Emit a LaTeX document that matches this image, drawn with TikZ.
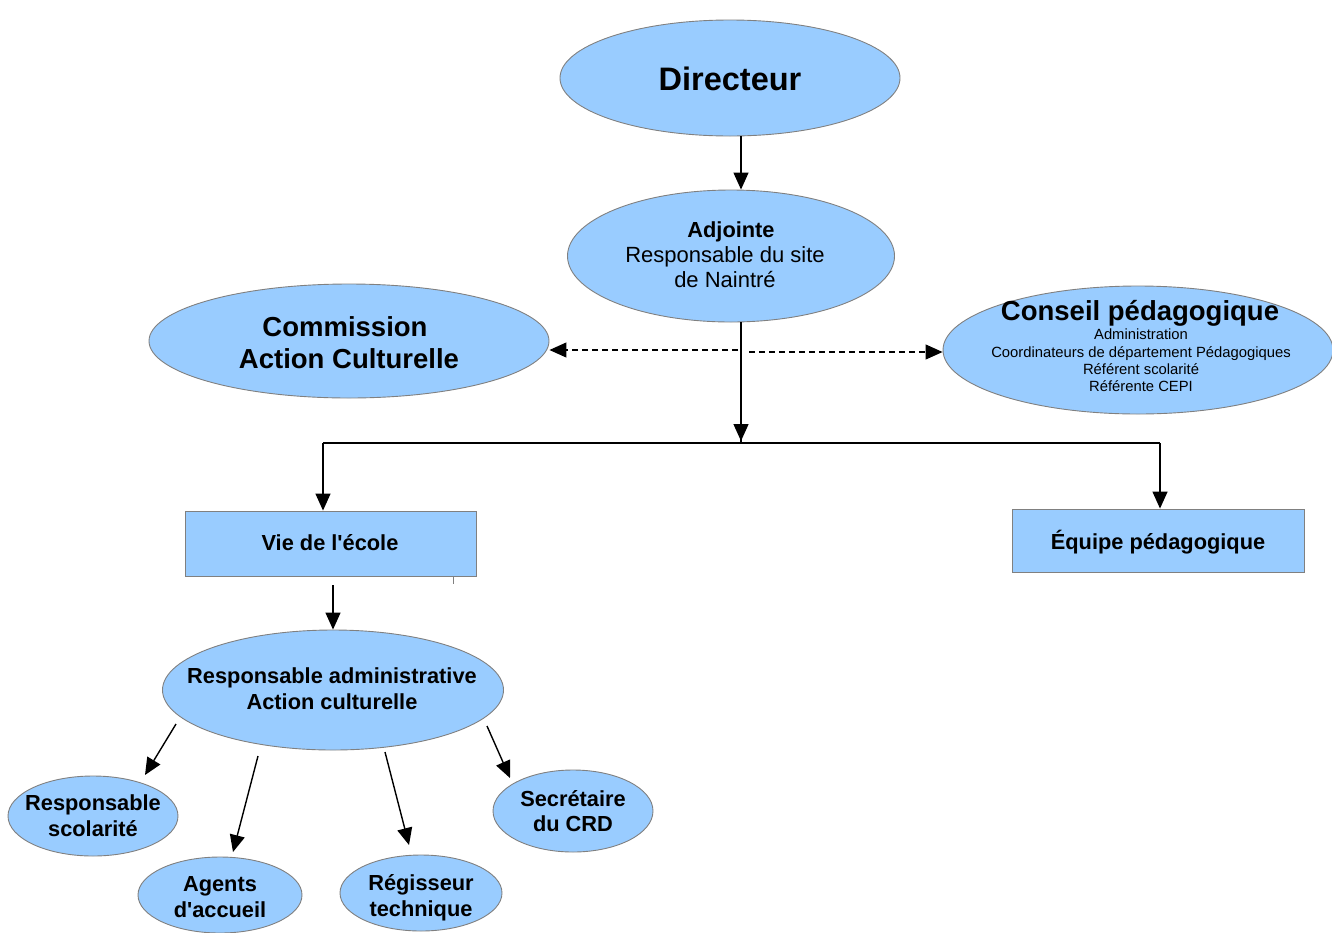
\documentclass[tikz,border=0pt]{standalone}
\usepackage{fontspec}
\setmainfont{Liberation Sans}[Ligatures=TeXOff]
\usetikzlibrary{shapes.geometric,arrows.meta,calc}
\definecolor{bubblefill}{HTML}{99CCFF}
\definecolor{bubbleline}{HTML}{808080}
\tikzset{
  bubble/.style={ellipse, draw=bubbleline, line width=0.9pt, fill=bubblefill, inner sep=0pt},
  boxnode/.style={rectangle, draw=bubbleline, line width=0.9pt, fill=bubblefill, inner sep=0pt},
  txt/.style={anchor=base, inner sep=0pt},
  fbig/.style={txt, font=\bfseries\fontsize{32.5}{36}\selectfont},
  fhead/.style={txt, font=\bfseries\fontsize{27.5}{32}\selectfont},
  fbold/.style={txt, font=\bfseries\fontsize{21.8}{25}\selectfont},
  freg/.style={txt, font=\fontsize{22}{25}\selectfont},
  fsmall/.style={txt, font=\fontsize{14.8}{17}\selectfont},
  arr/.style={-{Triangle[length=17pt,width=15pt]}, line width=1.4pt, black},
  dasharr/.style={arr, line width=1.1pt, dash pattern=on 6pt off 4pt}
}
\begin{document}
\begin{tikzpicture}[x=1pt,y=-1pt]
\useasboundingbox (0,0) rectangle (1332,932);
% shapes
\node[bubble, minimum width=340pt, minimum height=116pt] (dir) at (730,78) {};
\node[bubble, minimum width=327pt, minimum height=132pt] (adj) at (731,256) {};
\node[bubble, minimum width=400pt, minimum height=114pt] (com) at (349,341) {};
\node[bubble, minimum width=390pt, minimum height=128pt] (con) at (1138,350) {};
\node[boxnode, minimum width=291pt, minimum height=65pt] (vie) at (330.5,543.5) {};
\node[boxnode, minimum width=292pt, minimum height=63pt] (eq) at (1158,540.5) {};
\node[bubble, minimum width=341pt, minimum height=120pt] (ra) at (333,690) {};
\node[bubble, minimum width=170pt, minimum height=80pt] (rs) at (93,816) {};
\node[bubble, minimum width=164pt, minimum height=76pt] (ag) at (220,895) {};
\node[bubble, minimum width=162pt, minimum height=76pt] (rg) at (421,893) {};
\node[bubble, minimum width=160pt, minimum height=82pt] (sc) at (573,811) {};
% texts
\node[fbig] (tdir) at (730,90) {Directeur};
\node[fbold] (tadj1) at (731,237.5) {Adjointe};
\node[freg] (tadj2) at (725,262.5) {Responsable du site};
\node[freg] (tadj3) at (725,287.5) {de Naintré};
\node[fhead] (tcom1) at (345,336) {Commission};
\node[fhead] (tcom2) at (349,368) {Action Culturelle};
\node[fhead] (tcon1) at (1140,320) {Conseil pédagogique};
\node[fsmall] (tcon2) at (1141,339) {Administration};
\node[fsmall] (tcon3) at (1141,357) {Coordinateurs de département Pédagogiques};
\node[fsmall] (tcon4) at (1141,374) {Référent scolarité};
\node[fsmall] (tcon5) at (1141,391) {Référente CEPI};
\node[fbold] (tvie) at (330,550) {Vie de l'école};
\node[fbold] (teq) at (1158,549) {Équipe pédagogique};
\node[fbold] (tra1) at (332,683) {Responsable administrative};
\node[fbold] (tra2) at (332,709) {Action culturelle};
\node[fbold] (trs1) at (93,810) {Responsable};
\node[fbold] (trs2) at (93,836) {scolarité};
\node[fbold] (tag1) at (220,891) {Agents};
\node[fbold] (tag2) at (220,917) {d'accueil};
\node[fbold] (trg1) at (421,890) {Régisseur};
\node[fbold] (trg2) at (421,916) {technique};
\node[fbold] (tsc1) at (573,806) {Secrétaire};
\node[fbold] (tsc2) at (573,831) {du CRD};
% connectors
\coordinate (j) at (741,443);
\coordinate (jl) at (323,443);
\coordinate (jr) at (1160,443);
\coordinate (dm) at (741,350);
\draw[arr] (dir.south -| j) -- (adj.north -| j);
\draw[line width=1.4pt] (adj.south -| j) -- (j);
\draw[arr] (adj.south -| j) -- ($(j)+(0,-2)$);
\draw[line width=1.4pt] (jl) -- (jr);
\draw[arr] (jl) -- (jl |- vie.north);
\draw[arr] (jr) -- (jr |- eq.north);
\draw[dasharr] ($(dm)+(-3,0)$) -- (com.east |- dm);
\draw[dasharr] ($(dm)+(8,2)$) -- ($(con.west)+(0,2)$);
\draw[arr] ($(vie.south)+(2.5,9)$) -- (ra.north);
\draw[bubbleline, line width=0.9pt] ($(vie.south east)+(-23,0)$) -- ($(vie.south east)+(-23,8)$);
\draw[arr] ($(ra.center)+(-157,34)$) -- ($(rs.center)+(52,-41)$);
\draw[arr] ($(ra.center)+(-75,66)$) -- ($(ag.center)+(13,-43)$);
\draw[arr] ($(ra.center)+(52,62)$) -- ($(rg.center)+(-12,-48)$);
\draw[arr] ($(ra.center)+(154,36)$) -- ($(sc.center)+(-63,-33)$);
\end{tikzpicture}
\end{document}
